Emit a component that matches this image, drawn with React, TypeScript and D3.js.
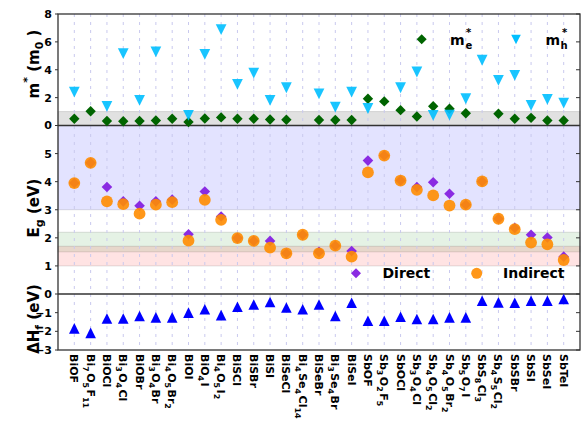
import React from "react";
import * as d3 from "d3";

const categories = [
  "BiOF", "Bi_{7}O_{5}F_{11}", "BiOCl", "Bi_{3}O_{4}Cl", "BiOBr", "Bi_{3}O_{4}Br",
  "Bi_{4}O_{5}Br_{2}", "BiOI", "BiO_{4}I", "Bi_{4}O_{5}I_{2}", "BiSCl", "BiSBr", "BiSI",
  "BiSeCl", "Bi_{4}Se_{4}Cl_{14}", "BiSeBr", "Bi_{3}Se_{4}Br", "BiSeI", "SbOF",
  "Sb_{3}O_{2}F_{5}", "SbOCl", "Sb_{3}O_{4}Cl", "Sb_{4}O_{5}Cl_{2}", "Sb_{4}O_{5}Br_{2}",
  "Sb_{5}O_{7}I", "SbS_{8}Cl_{3}", "Sb_{4}S_{5}Cl_{2}", "SbSBr", "SbSI", "SbSeI", "SbTeI",
];

// effective masses (m0)
const mElectron = [
  0.48, 1.02, 0.32, 0.3, 0.32, 0.36, 0.48, 0.25, 0.5, 0.58, 0.48, 0.48, 0.43, 0.41, null,
  0.4, 0.4, 0.4, 1.92, 1.73, 1.1, 0.65, 1.38, 1.2, 0.88, null, 0.84, 0.48, 0.55, 0.36, 0.36,
];
const mHole = [
  2.4, null, 1.37, 5.16, 1.8, 5.28, null, 0.72, 5.1, 6.88, 2.95, 3.76, 1.8, 2.71, null,
  2.27, 1.32, 2.4, 1.22, null, 2.71, 3.84, 0.72, 0.75, 1.92, 4.68, 3.24, 3.6, 1.44, 1.87, 1.6,
];

// band gaps (eV)
const gapDirect = [
  3.95, 4.67, 3.81, 3.3, 3.14, 3.3, 3.36, 2.13, 3.65, 2.76, 1.99, 1.89, 1.89, 1.45, 2.11,
  1.5, 1.72, 1.53, 4.75, 4.93, 4.04, 3.81, 3.98, 3.57, 3.18, 4.01, 2.68, 2.35, 2.11, 2.01, 1.33,
];
const gapIndirect = [
  3.95, 4.67, 3.3, 3.2, 2.86, 3.18, 3.27, 1.9, 3.35, 2.64, 1.99, 1.89, 1.65, 1.45, 2.11,
  1.45, 1.72, 1.33, 4.33, 4.93, 4.04, 3.71, 3.51, 3.15, 3.18, 4.01, 2.68, 2.31, 1.83, 1.77, 1.21,
];

// formation enthalpy (eV)
const formation = [
  -1.84, -2.08, -1.31, -1.31, -1.18, -1.25, -1.25, -1.0, -0.82, -1.13, -0.68, -0.56, -0.43,
  -0.72, -0.82, -0.56, -1.18, -0.47, -1.43, -1.43, -1.22, -1.34, -1.34, -1.25, -1.25, -0.36,
  -0.45, -0.47, -0.36, -0.36, -0.27,
];

const massTicks = [0, 2, 4, 6, 8];
const gapTicks = [1, 2, 3, 4, 5];
const formTicks = [0, -1, -2, -3];

const FONT = "'DejaVu Sans', sans-serif";
const L = 58;
const R = 580;

const x = d3.scaleLinear().domain([-1, 31]).range([L, R]);
const yM = d3.scaleLinear().domain([0, 8]).range([125.5, 14]);
const yE = d3.scaleLinear().domain([0, 6]).range([294, 125.5]);
const yH = d3.scaleLinear().domain([-3, 0]).range([350, 294]);

const diamond = (s) => `M0,${-s}L${s},0L0,${s}L${-s},0Z`;
const triUp = (s) => `M0,${-s}L${s},${s}L${-s},${s}Z`;
const triDown = (s) => `M0,${s}L${s},${-s}L${-s},${-s}Z`;

// split "Bi_{7}O" into plain / subscript pieces
const parseLabel = (s) => {
  const out = [];
  const re = /_\{([^}]*)\}|([^_]+)/g;
  let m;
  while ((m = re.exec(s))) {
    if (m[1] !== undefined) out.push({ t: m[1], sub: true });
    else out.push({ t: m[2], sub: false });
  }
  return out;
};

const RichTspans = ({ text, size }) => {
  const parts = parseLabel(text);
  let off = 0;
  return (
    <>
      {parts.map((p, k) => {
        const target = p.sub ? size * 0.3 : 0;
        const dy = target - off;
        off = target;
        return (
          <tspan
            key={k}
            dy={dy}
            dx={!p.sub && k > 0 ? 1.5 : 0}
            fontSize={p.sub ? size * 0.72 : size}
          >
            {p.t}
          </tspan>
        );
      })}
    </>
  );
};

const App = () => {
  const bandStroke = "rgba(0,0,0,0.12)";
  const band = (y0, y1, fill) => (
    <rect x={L} y={y1} width={R - L} height={y0 - y1} fill={fill} stroke={bandStroke} strokeWidth={1} />
  );

  return (
    <svg
      width={581}
      height={427}
      style={{ position: "absolute", left: 0, top: 0, background: "#fff" }}
      fontFamily={FONT}
      fontWeight="bold"
    >
      {/* background bands */}
      {band(yM(0), yM(1), "rgba(128,128,128,0.24)")}
      {band(yE(3), yE(6), "rgba(0,0,255,0.11)")}
      {band(yE(1.5), yE(2.2), "rgba(0,128,0,0.1)")}
      {band(yE(1.0), yE(1.7), "rgba(255,0,0,0.11)")}

      {/* vertical grid */}
      {categories.map((c, i) => (
        <line
          key={"g" + i}
          x1={x(i)}
          x2={x(i)}
          y1={14}
          y2={350}
          stroke="#c9c9ee"
          strokeWidth={1}
          strokeDasharray="3,5"
        />
      ))}

      {/* frames */}
      <rect x={L} y={14} width={R - L} height={336} fill="none" stroke="#333" strokeWidth={1.3} />
      <line x1={L} x2={R} y1={125.5} y2={125.5} stroke="#333" strokeWidth={1.3} />
      <line x1={L} x2={R} y1={294} y2={294} stroke="#333" strokeWidth={1.3} />

      {/* ticks + labels */}
      {massTicks.map((t) => (
        <g key={"mt" + t}>
          <line x1={L - 3} x2={L} y1={yM(t)} y2={yM(t)} stroke="#333" />
          <line x1={R - 4} x2={R} y1={yM(t)} y2={yM(t)} stroke="#333" />
          <text x={52} y={yM(t)} dy="0.36em" textAnchor="end" fontSize={11}>{t}</text>
        </g>
      ))}
      {gapTicks.map((t) => (
        <g key={"et" + t}>
          <line x1={L - 3} x2={L} y1={yE(t)} y2={yE(t)} stroke="#333" />
          <line x1={R - 4} x2={R} y1={yE(t)} y2={yE(t)} stroke="#333" />
          <text x={52} y={yE(t)} dy="0.36em" textAnchor="end" fontSize={11}>{t}</text>
        </g>
      ))}
      {formTicks.map((t) => (
        <g key={"ht" + t}>
          <line x1={L - 3} x2={L} y1={yH(t)} y2={yH(t)} stroke="#333" />
          <line x1={R - 4} x2={R} y1={yH(t)} y2={yH(t)} stroke="#333" />
          <text x={52} y={yH(t)} dy="0.36em" textAnchor="end" fontSize={11}>
            {t < 0 ? "\u2212" + Math.abs(t) : t}
          </text>
        </g>
      ))}

      {/* y axis titles */}
      <text transform="translate(39,64) rotate(-90)" textAnchor="middle" fontSize={15}>
        <tspan>m</tspan>
        <tspan dy={-8} fontSize={11}>*</tspan>
        <tspan dy={8}> (m</tspan>
        <tspan dy={4} fontSize={11}>0</tspan>
        <tspan dy={-4}> )</tspan>
      </text>
      <text transform="translate(39,208) rotate(-90)" textAnchor="middle" fontSize={15}>
        <tspan>E</tspan>
        <tspan dy={4} fontSize={11}>g</tspan>
        <tspan dy={-4}>  (eV)</tspan>
      </text>
      <text transform="translate(39,319) rotate(-90)" textAnchor="middle" fontSize={15}>
        <tspan>ΔH</tspan>
        <tspan dy={4} fontSize={11}>f</tspan>
        <tspan dy={-4}> (eV)</tspan>
      </text>

      {/* x labels */}
      {categories.map((c, i) => (
        <text key={"xl" + i} transform={`translate(${x(i)},354) rotate(90)`} y={4} fontSize={11}>
          <RichTspans text={c} size={11} />
        </text>
      ))}

      {/* effective masses */}
      {mElectron.map((v, i) =>
        v == null ? null : (
          <path key={"me" + i} d={diamond(5.2)} transform={`translate(${x(i)},${yM(v)})`} fill="#006400" />
        )
      )}
      {mHole.map((v, i) =>
        v == null ? null : (
          <path
            key={"mh" + i}
            d={triDown(5.4)}
            transform={`translate(${x(i)},${yM(v)})`}
            fill="#00bfff"
            fillOpacity={0.9}
          />
        )
      )}

      {/* band gaps */}
      {gapDirect.map((v, i) => (
        <path key={"gd" + i} d={diamond(5.3)} transform={`translate(${x(i)},${yE(v)})`} fill="#8a2be2" />
      ))}
      {gapIndirect.map((v, i) => (
        <circle key={"gi" + i} cx={x(i)} cy={yE(v)} r={5.9} fill="#ff8c00" fillOpacity={0.9} />
      ))}

      {/* formation enthalpy */}
      {formation.map((v, i) => (
        <path key={"hf" + i} d={triUp(5.3)} transform={`translate(${x(i)},${yH(v)})`} fill="#0000ff" />
      ))}

      {/* legends */}
      <path d={diamond(5)} transform="translate(421.7,39.3)" fill="#006400" />
      <text x={450} y={44.5} fontSize={14}>m</text>
      <text x={465.5} y={48.5} fontSize={10}>e</text>
      <text x={466} y={36} fontSize={10}>*</text>
      <path d={triDown(4.8)} transform="translate(516,39.5)" fill="#00bfff" />
      <text x={545.5} y={44.5} fontSize={14}>m</text>
      <text x={560.5} y={48.5} fontSize={10}>h</text>
      <text x={562} y={36} fontSize={10}>*</text>

      <path d={diamond(5)} transform="translate(356,273.3)" fill="#8a2be2" />
      <text x={382.5} y={277.5} fontSize={14}>Direct</text>
      <circle cx={476.7} cy={273.3} r={5.5} fill="#ff8c00" fillOpacity={0.9} />
      <text x={503} y={277.5} fontSize={14}>Indirect</text>
    </svg>
  );
};

export default App;
